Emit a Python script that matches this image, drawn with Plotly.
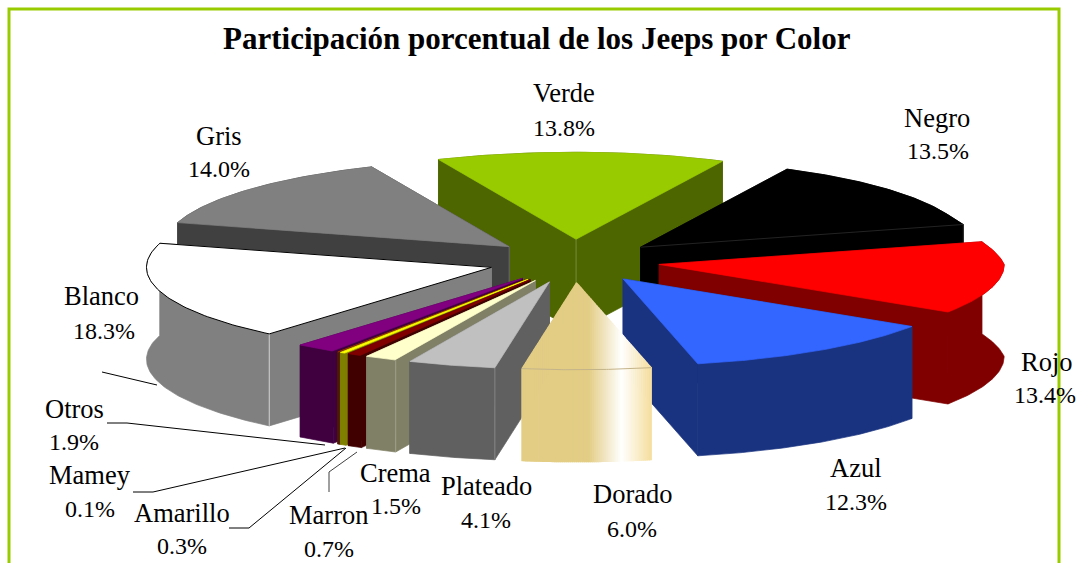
import numpy as np
import plotly.graph_objects as go

categories = ["Verde", "Negro", "Rojo", "Azul", "Dorado", "Plateado", "Crema",
              "Marron", "Amarillo", "Mamey", "Otros", "Blanco", "Gris"]
values = [13.8, 13.5, 13.4, 12.3, 6.0, 4.1, 1.5, 0.7, 0.3, 0.1, 1.9, 18.3, 14.0]
top_colors = ["#99CC00", "#000000", "#FF0000", "#3366FF", "#E3CD85", "#C0C0C0", "#FFFFCC",
              "#800000", "#FFFF00", "#993300", "#800080", "#FFFFFF", "#808080"]
wall_colors = ["#4D6600", "#000000", "#800000", "#1A3380", "#E3CD85", "#606060", "#808066",
               "#400000", "#808000", "#4D1A00", "#400040", "#808080", "#404040"]
title_text = "Participación porcentual de los Jeeps por Color"

# projection of the tilted pie (pixels of the 1076x563 page)
CX, CY, RX, RY, WALL, EXPLODE, START = 574, 261, 345, 87, 92, 0.25, -23.5

label_pos = {
    "Verde": (564, 93, 564, 128), "Negro": (937, 118, 938, 151), "Rojo": (1047, 362, 1045, 395),
    "Azul": (856, 468, 856, 502), "Dorado": (632, 494, 632, 529), "Plateado": (486, 486, 486, 520),
    "Crema": (395, 473, 396, 506), "Marron": (328, 515, 329, 549), "Amarillo": (182, 513, 182, 546),
    "Mamey": (90, 475, 90, 509), "Otros": (74, 409, 74, 442), "Blanco": (101, 296, 104, 331),
    "Gris": (219, 136, 219, 169),
}
leaders = [
    ("#000000", [(102, 372), (157, 385)]),
    ("#000000", [(107, 423), (127, 423), (325, 445)]),
    ("#000000", [(133, 492), (153, 492), (345, 448)]),
    ("#000000", [(229, 528), (249, 528), (346, 448)]),
    ("#404040", [(329, 492), (329, 472), (357, 452)]),
]

FONT = "Liberation Serif"
NAME_SIZE, VALUE_SIZE, TITLE_SIZE = 26.5, 24, 31


def mix(c, other, t):
    a = [int(c[i:i + 2], 16) for i in (1, 3, 5)]
    b = [int(other[i:i + 2], 16) for i in (1, 3, 5)]
    return "#%02x%02x%02x" % tuple(round(x + (y - x) * t) for x, y in zip(a, b))


fig = go.Figure()


def poly(xs, ys, fill, line=None, width=0.7):
    fig.add_trace(go.Scatter(x=list(xs), y=list(ys), mode="lines", fill="toself", fillcolor=fill,
                             line=dict(color=line or fill, width=width), hoverinfo="skip",
                             showlegend=False))


def segs(xs, ys, color, width=1.0):
    fig.add_trace(go.Scatter(x=list(xs), y=list(ys), mode="lines", line=dict(color=color, width=width),
                             hoverinfo="skip", showlegend=False))


total = sum(values)
edges = START + np.concatenate([[0], np.cumsum(values)]) / total * 360
slices = []
for i, name in enumerate(categories):
    a0, a1 = np.radians(edges[i]), np.radians(edges[i + 1])
    mid = (a0 + a1) / 2
    ax = CX + EXPLODE * RX * np.sin(mid)
    ay = CY - EXPLODE * RY * np.cos(mid)
    th = np.linspace(a0, a1, 70)
    # the far right quarter of the drawing is slightly narrower than the rest
    squeeze = 1 - 0.04 * np.clip(3 * np.cos(th), 0, 1) * (np.sin(th) > 0)
    slices.append(dict(i=i, name=name, ax=ax, ay=ay, ox=ax + RX * np.sin(th) * squeeze,
                       oy=ay - RY * np.cos(th), depth=np.cos(mid)))

GOLD_STOPS = [(0.0, "#E3CD85"), (0.52, "#E3CD85"), (0.775, "#FFFFFF"), (1.0, "#F5DFA0")]


def gold(t):
    for (p0, c0), (p1, c1) in zip(GOLD_STOPS, GOLD_STOPS[1:]):
        if t <= p1:
            return mix(c0, c1, (t - p0) / (p1 - p0))
    return GOLD_STOPS[-1][1]


def draw_gradient(s):
    order = np.argsort(s["ox"])
    ox, oy = s["ox"][order], s["oy"][order]
    xl, xr = ox[0], ox[-1]
    lx = [ox[0], s["ax"], ox[-1]]
    ly = [oy[0], s["ay"], oy[-1]]
    cuts = np.linspace(xl, xr, int(xr - xl) // 2 + 1)
    for a, b in zip(cuts, cuts[1:]):
        t = ((a + b) / 2 - xl) / (xr - xl)
        c = gold(t)
        ya, yb = np.interp(a, ox, oy), np.interp(b, ox, oy)
        ua, ub = np.interp(a, lx, ly), np.interp(b, lx, ly)
        poly([a, b, b, a, a], [ya, yb, yb + WALL, ya + WALL, ya], c, width=1.2)
        poly([a, b, b, a, a], [ua, ub, yb, ya, ua], c, width=1.2)
    segs(ox, oy, "#C4B48A", 1)


for s in sorted(slices, key=lambda d: -d["depth"]):
    i = s["i"]
    ax, ay, ox, oy = s["ax"], s["ay"], s["ox"], s["oy"]
    if s["name"] == "Dorado":
        draw_gradient(s)
        continue
    wc, tc = wall_colors[i], top_colors[i]
    walls = [
        ([ax, ox[0], ox[0], ax, ax], [ay, oy[0], oy[0] + WALL, ay + WALL, ay]),
        ([ax, ox[-1], ox[-1], ax, ax], [ay, oy[-1], oy[-1] + WALL, ay + WALL, ay]),
        (np.r_[ox, ox[::-1], ox[0]], np.r_[oy, oy[::-1] + WALL, oy[0]]),
    ]
    walls.sort(key=lambda w: np.mean(w[1]))
    for wx, wy in walls:
        poly(wx, wy, wc)
    edge = mix(wc, "#FFFFFF", 0.3 if s["name"] != "Blanco" else 0.8)
    if s["depth"] > 0.5 and s["name"] != "Negro":
        segs([ax, ax], [ay, ay + WALL], edge, 0.8)
    if s["name"] in ("Plateado", "Crema", "Blanco"):
        k = int(np.argmax(oy))
        segs([ox[k], ox[k]], [oy[k], oy[k] + WALL], edge, 0.8)
    px, py = np.r_[ax, ox, ax], np.r_[ay, oy, ay]
    if s["name"] == "Blanco":
        poly(px, py, tc, "#000000", 1)
    else:
        poly(px, py, tc)
    if s["name"] == "Negro":
        segs([ax, ox[-1], ox[-1]], [ay, oy[-1], oy[-1] + 26], "#3a3a3a", 0.6)

shapes = [dict(type="rect", xref="x", yref="y", x0=9, x1=1059, y0=9, y1=620,
               line=dict(color="#99CC00", width=3), layer="below")]
for color, pts in leaders:
    path = "M " + " L ".join(f"{x},{y}" for x, y in pts)
    shapes.append(dict(type="path", path=path, xref="x", yref="y", line=dict(color=color, width=1)))

annotations = [dict(x=537, y=38, xref="x", yref="y", text=f"<b>{title_text}</b>", showarrow=False,
                    font=dict(family=FONT, size=TITLE_SIZE, color="#000000"))]
for name, v in zip(categories, values):
    x1, y1, x2, y2 = label_pos[name]
    annotations.append(dict(x=x1, y=y1, xref="x", yref="y", text=name, showarrow=False,
                            font=dict(family=FONT, size=NAME_SIZE, color="#000000")))
    annotations.append(dict(x=x2, y=y2, xref="x", yref="y", text=f"{v:.1f}%", showarrow=False,
                            font=dict(family=FONT, size=VALUE_SIZE, color="#000000")))

fig.update_layout(
    width=1076, height=563, autosize=False, margin=dict(l=0, r=0, t=0, b=0),
    paper_bgcolor="#FFFFFF", plot_bgcolor="#FFFFFF", showlegend=False,
    xaxis=dict(range=[0, 1076], visible=False, fixedrange=True),
    yaxis=dict(range=[563, 0], visible=False, fixedrange=True),
    shapes=shapes, annotations=annotations,
)
fig.write_html("out.html", post_script="document.body.style.margin='0';", config={"displayModeBar": False})
